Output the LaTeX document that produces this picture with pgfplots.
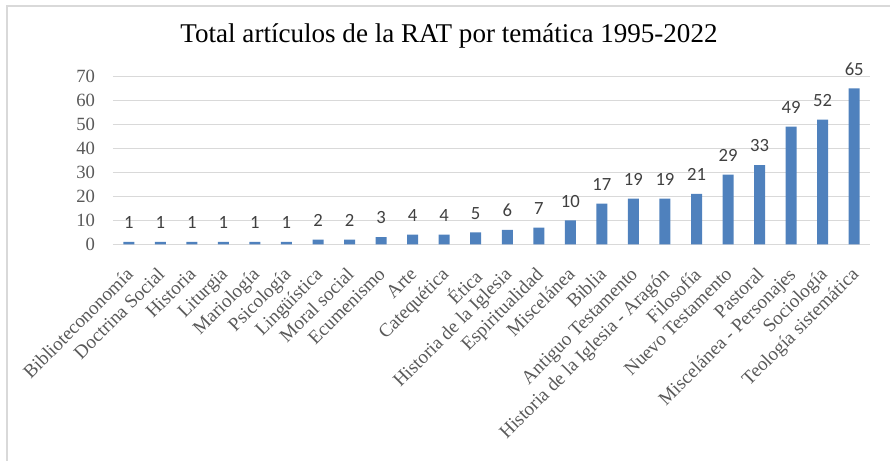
\documentclass[border=0pt]{standalone}
\usepackage{pgfplots}
\pgfplotsset{compat=1.18}
\usepackage{pgfplotstable}
\usepackage{fontspec}
\setmainfont{Liberation Serif}
\newfontfamily\lblfont{Carlito}
\definecolor{barblue}{HTML}{4F81BD}
\definecolor{gridgray}{HTML}{D9D9D9}
\definecolor{tickgray}{HTML}{595959}
\definecolor{lblgray}{HTML}{404040}

\pgfplotstableread{
x y
0 1
1 1
2 1
3 1
4 1
5 1
6 2
7 2
8 3
9 4
10 4
11 5
12 6
13 7
14 10
15 17
16 19
17 19
18 21
19 29
20 33
21 49
22 52
23 65
}\datatable

\begin{document}
\begin{tikzpicture}
\path[use as bounding box] (0,0) rectangle (667.5pt,345.75pt);
\draw[gridgray, line width=1.5pt] (5.25pt,-10pt) -- (5.25pt,341.25pt) -- (680pt,341.25pt);
\node[anchor=base, font=\fontsize{20.3}{20.3}\selectfont, text=black] at (336.75pt,313.5pt) {Total artículos de la RAT por temática 1995-2022};
\begin{axis}[
  at={(84.75pt,162.5pt)}, anchor=south west,
  scale only axis, width=567.75pt, height=126pt,
  xmin=-0.5, xmax=23.5, ymin=0, ymax=70,
  ytick={0,10,...,70},
  xtick={0,...,23},
  xticklabels={Bibliotecononomía,Doctrina Social,Historia,Liturgia,Mariología,Psicología,Lingüística,Moral social,Ecumenismo,Arte,Catequética,Ética,Historia de la Iglesia,Espiritualidad,Miscelánea,Biblia,Antiguo Testamento,Historia de la Iglesia - Aragón,Filosofía,Nuevo Testamento,Pastoral,Miscelánea - Personajes,Sociología,Teología sistemática},
  /pgf/number format/assume math mode=true,
  axis line style={draw=none},
  major tick length=0pt,
  ymajorgrids, grid style={gridgray, line width=0.75pt},
  yticklabel style={font=\fontsize{14}{14}\selectfont, text=tickgray, anchor=east, xshift=-10pt},
  xticklabel style={xshift=-3pt, yshift=-15pt, font=\fontsize{14.3}{14.3}\selectfont, text=tickgray, rotate=45, anchor=north east, inner sep=1pt},
  clip=false,
]
\addplot[ybar, bar width=8.25pt, fill=barblue, draw=none,
  nodes near coords,
  every node near coord/.append style={font=\lblfont\fontsize{14}{14}\selectfont, text=lblgray, anchor=base, yshift=10pt}]
  table[x=x,y=y] {\datatable};
\end{axis}
\end{tikzpicture}
\end{document}
